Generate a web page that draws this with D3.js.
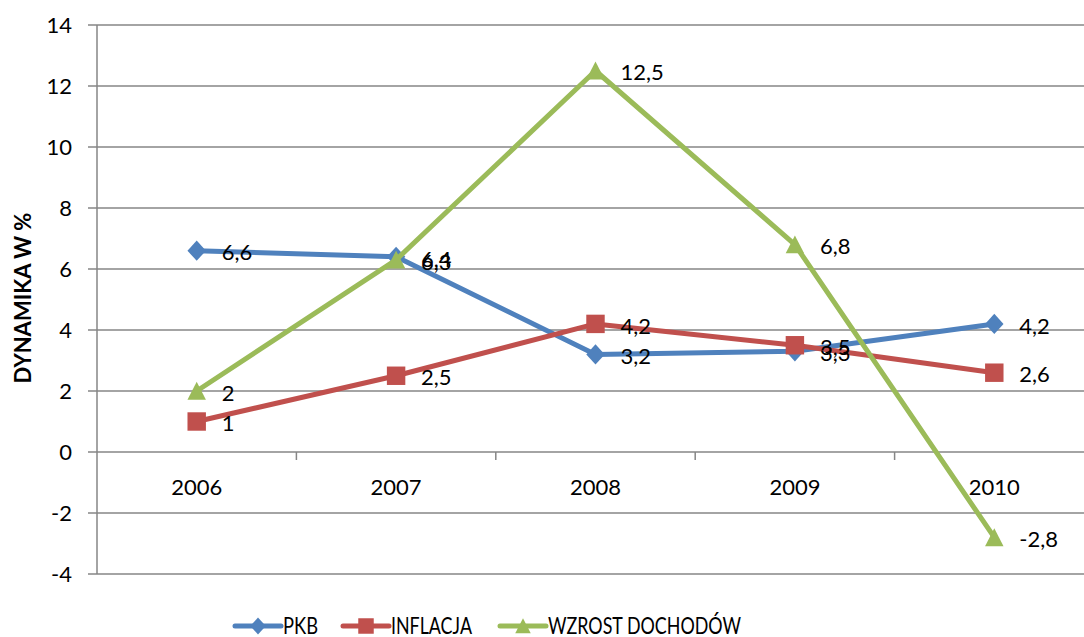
<!DOCTYPE html>
<html>
<head>
<meta charset="utf-8">
<script src="https://cdn.jsdelivr.net/npm/d3@7"></script>
<style>
  body { margin: 0; background: #fff; }
  text { font-family: Lato, "Open Sans", sans-serif; fill: #000; }
</style>
</head>
<body>
<div id="chart"></div>
<script>
var years = ["2006", "2007", "2008", "2009", "2010"];
var pkb = [6.6, 6.4, 3.2, 3.3, 4.2];
var inflacja = [1, 2.5, 4.2, 3.5, 2.6];
var wzrost = [2, 6.3, 12.5, 6.8, -2.8];
var yTicks = [-4, -2, 0, 2, 4, 6, 8, 10, 12, 14];
var seriesNames = ["PKB", "INFLACJA", "WZROST DOCHODÓW"];

// excel-like markers, size = width squared
var diamond = {draw: function(ctx, size) {
  var r = Math.sqrt(size) / 2;
  ctx.moveTo(0, -r * 1.1); ctx.lineTo(r, 0); ctx.lineTo(0, r * 1.1); ctx.lineTo(-r, 0); ctx.closePath();
}};
var square = {draw: function(ctx, size) {
  var r = Math.sqrt(size) / 2;
  ctx.rect(-r, -r, 2 * r, 2 * r);
}};
var triangle = {draw: function(ctx, size) {
  var r = Math.sqrt(size) / 2;
  ctx.moveTo(0, -r); ctx.lineTo(r, r * 0.95); ctx.lineTo(-r, r * 0.95); ctx.closePath();
}};

var series = [
  {name: seriesNames[0], values: pkb, color: "#4f81bd", marker: diamond, legendW: 35},
  {name: seriesNames[1], values: inflacja, color: "#c0504d", marker: square, legendW: 81},
  {name: seriesNames[2], values: wzrost, color: "#9bbb59", marker: triangle, legendW: 193}
];

var W = 1084, H = 637;
var plotLeft = 97, plotRight = 1094, plotTop = 25, plotBottom = 574;

var svg = d3.select("#chart")
  .append("svg")
    .attr("width", W)
    .attr("height", H);

var x = d3.scaleBand()
  .domain(years)
  .range([plotLeft, plotRight]);

var y = d3.scaleLinear()
  .domain([-4, 14])
  .range([plotBottom, plotTop]);

// gridlines
svg.append("g")
  .selectAll("line")
  .data(yTicks)
  .enter().append("line")
    .attr("x1", plotLeft - 9)
    .attr("x2", plotRight)
    .attr("y1", function(d) { return y(d); })
    .attr("y2", function(d) { return y(d); })
    .attr("stroke", "#868686")
    .attr("stroke-width", 1.5);

// y axis line
svg.append("line")
  .attr("x1", plotLeft).attr("x2", plotLeft)
  .attr("y1", plotTop).attr("y2", plotBottom)
  .attr("stroke", "#868686")
  .attr("stroke-width", 1.5);

// y tick labels
svg.append("g")
  .selectAll("text")
  .data(yTicks)
  .enter().append("text")
    .attr("x", 72)
    .attr("y", function(d) { return y(d); })
    .attr("dy", "0.35em")
    .attr("text-anchor", "end")
    .style("font-size", "22px")
    .text(function(d) { return d; });

// x axis ticks at band boundaries, on the zero line
var boundaries = years.slice(1).map(function(d) { return x(d); });
boundaries.push(plotRight);
svg.append("g")
  .selectAll("line")
  .data(boundaries)
  .enter().append("line")
    .attr("x1", function(d) { return d; })
    .attr("x2", function(d) { return d; })
    .attr("y1", y(0))
    .attr("y2", y(0) + 8)
    .attr("stroke", "#868686")
    .attr("stroke-width", 1.5);

svg.append("g")
  .selectAll("text")
  .data(years)
  .enter().append("text")
    .attr("x", function(d) { return x(d) + x.bandwidth() / 2; })
    .attr("y", y(0) + 35)
    .attr("dy", "0.35em")
    .attr("text-anchor", "middle")
    .style("font-size", "22px")
    .text(function(d) { return d; });

// y axis title
svg.append("text")
  .attr("transform", "translate(31,298) rotate(-90)")
  .attr("text-anchor", "middle")
  .style("font-size", "22px")
  .style("font-weight", "bold")
  .text("DYNAMIKA W %");

var cx = function(i) { return x(years[i]) + x.bandwidth() / 2; };

var line = d3.line()
  .x(function(d, i) { return cx(i); })
  .y(function(d) { return y(d); });

series.forEach(function(s) {
  var g = svg.append("g");
  g.append("path")
    .datum(s.values)
    .attr("fill", "none")
    .attr("stroke", s.color)
    .attr("stroke-width", 5)
    .attr("stroke-linejoin", "round")
    .attr("d", line);
  g.selectAll("path.m")
    .data(s.values)
    .enter().append("path")
      .attr("class", "m")
      .attr("transform", function(d, i) { return "translate(" + cx(i) + "," + y(d) + ")"; })
      .attr("d", d3.symbol().type(s.marker).size(340))
      .attr("fill", s.color);
});

// data labels
series.forEach(function(s) {
  svg.append("g")
    .selectAll("text")
    .data(s.values)
    .enter().append("text")
      .attr("x", function(d, i) { return cx(i) + 25; })
      .attr("y", function(d) { return y(d) + 2; })
      .attr("dy", "0.35em")
      .style("font-size", "22px")
      .text(function(d) { return String(d).replace(".", ","); });
});

// legend
var legendX = [235, 343, 500];
var legendY = 626;
series.forEach(function(s, i) {
  var g = svg.append("g").attr("transform", "translate(" + legendX[i] + "," + legendY + ")");
  g.append("line")
    .attr("x1", 0).attr("x2", 46)
    .attr("y1", 0).attr("y2", 0)
    .attr("stroke", s.color)
    .attr("stroke-width", 5)
    .attr("stroke-linecap", "round");
  g.append("path")
    .attr("transform", "translate(23,0)")
    .attr("d", d3.symbol().type(s.marker).size(240))
    .attr("fill", s.color);
  g.append("text")
    .attr("x", 48)
    .attr("dy", "0.35em")
    .attr("textLength", s.legendW)
    .attr("lengthAdjust", "spacingAndGlyphs")
    .style("font-size", "23px")
    .text(s.name);
});
</script>
</body>
</html>
